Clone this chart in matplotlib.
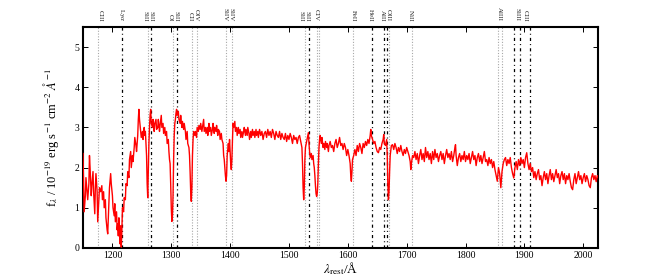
import matplotlib
matplotlib.use("Agg")
import matplotlib.pyplot as plt
import matplotlib.transforms as mtrans
import numpy as np

# ---- spectrum (rest wavelength in Angstrom, flux in 1e-19 erg/s/cm2/A) ----
spectrum_points = [
(1150,2.35),(1151,1.6),(1152,0.9),(1154,1.3),(1155,1.75),(1157,1.4),(1158,1.2),(1160,1.6),(1161,2.3),(1162,2.0),
(1164,1.3),(1165,1.55),(1167,1.9),(1168,1.4),(1170,0.85),(1171,1.5),(1172,1.85),(1174,1.4),(1175,0.65),(1177,1.2),
(1178,1.5),(1180,1.4),(1182,1.55),(1183,1.2),(1185,1.4),(1186,1.0),(1188,1.2),(1189,0.75),(1191,0.45),(1192,0.35),
(1194,1.1),(1195,1.5),(1197,1.85),(1198,1.6),(1200,1.3),(1201,1.0),(1203,0.8),(1204,1.1),(1205,0.65),(1207,0.9),
(1208,0.45),(1209,0.6),(1210,0.3),(1211,0.75),(1212,0.35),(1213,0.1),(1214,0.55),(1215,0.02),(1216,0.4),(1217,1.0),
(1219,0.9),(1220,1.25),(1222,1.2),(1223,1.6),(1225,1.55),(1226,1.9),(1228,1.75),(1229,2.2),(1231,2.4),(1232,2.0),
(1234,2.3),(1235,2.15),(1237,2.5),(1238,2.75),(1240,2.55),(1241,2.4),(1243,2.8),(1244,3.2),(1245,3.45),(1246,3.2),
(1248,2.9),(1249,2.75),(1251,2.9),(1252,2.7),(1254,3.0),(1255,2.8),(1256,2.9),(1257,2.6),(1258,2.3),(1259,1.6),
(1260,1.25),(1261,1.9),(1262,2.6),(1263,3.0),(1264,3.3),(1265,3.45),(1266,3.1),(1268,3.0),(1269,3.2),(1271,2.9),
(1272,3.1),(1274,3.2),(1275,2.95),(1277,3.0),(1278,3.2),(1280,2.9),(1281,3.05),(1283,3.3),(1284,3.0),(1286,3.1),
(1287,2.85),(1289,3.0),(1290,2.8),(1292,2.9),(1293,2.6),(1295,2.7),(1296,2.4),(1297,2.2),(1298,2.1),(1299,1.6),
(1300,1.0),(1301,0.66),(1302,0.8),(1303,1.3),(1304,2.2),(1305,2.8),(1306,3.1),(1307,3.2),(1308,3.35),(1309,3.45),
(1310,3.3),(1312,3.4),(1313,3.2),(1315,3.1),(1316,3.3),(1318,3.0),(1319,3.15),(1321,2.95),(1322,3.1),(1324,2.9),
(1325,2.7),(1327,2.9),(1328,2.6),(1330,2.5),(1331,2.3),(1332,1.9),(1333,1.4),(1334,1.16),(1335,1.5),(1336,2.3),
(1337,2.7),(1338,2.9),(1340,2.8),(1341,2.9),(1343,2.75),(1344,3.0),(1346,2.9),(1347,3.05),(1349,2.95),(1350,3.1),
(1352,2.9),(1353,3.0),(1355,3.2),(1356,2.9),(1358,3.0),(1359,2.85),(1361,3.0),(1362,2.8),(1364,3.1),(1365,2.9),
(1367,3.0),(1368,2.8),(1370,2.95),(1371,3.1),(1373,2.85),(1374,3.0),(1376,2.9),(1377,3.05),(1379,2.8),(1380,2.95),
(1382,2.9),(1383,2.7),(1385,2.85),(1386,2.7),(1388,2.6),(1389,2.3),(1390,2.2),(1391,2.0),(1392,1.8),(1393,1.66),
(1394,1.8),(1395,2.3),(1397,2.6),(1398,2.4),(1399,2.7),(1400,2.4),(1401,2.1),(1402,1.95),(1403,2.2),(1404,2.7),
(1405,3.1),(1406,3.0),(1408,3.15),(1409,2.9),(1411,3.0),(1412,2.8),(1414,3.0),(1415,2.85),(1417,2.95),(1418,2.75),
(1420,2.9),(1421,2.75),(1423,2.9),(1424,3.0),(1426,2.8),(1427,2.95),(1429,2.8),(1430,3.0),(1432,2.85),(1433,2.7),
(1435,2.9),(1436,2.75),(1438,2.95),(1439,2.8),(1441,2.9),(1442,2.75),(1444,2.95),(1445,2.8),(1447,2.9),(1448,2.75),
(1450,2.95),(1452,2.8),(1454,2.9),(1456,2.7),(1458,2.85),(1460,2.9),(1462,2.75),(1464,2.95),(1466,2.8),(1468,2.9),
(1470,2.75),(1472,2.95),(1474,2.85),(1476,2.7),(1478,2.9),(1480,2.8),(1482,2.75),(1484,2.9),(1486,2.7),(1488,2.85),
(1490,2.75),(1492,2.7),(1494,2.85),(1496,2.65),(1498,2.8),(1500,2.7),(1502,2.85),(1504,2.75),(1506,2.6),(1508,2.8),
(1510,2.7),(1512,2.75),(1514,2.6),(1516,2.75),(1518,2.8),(1520,2.65),(1522,2.5),(1523,2.1),(1524,1.5),(1525,1.2),
(1526,1.5),(1527,2.2),(1528,2.5),(1530,2.65),(1532,2.8),(1533,2.87),(1534,2.6),(1535,2.4),(1536,2.25),(1538,2.35),
(1539,2.2),(1541,2.3),(1542,2.1),(1543,2.0),(1544,1.8),(1545,1.55),(1546,1.35),(1547,1.28),(1548,1.35),(1549,1.6),
(1550,2.1),(1551,2.5),(1552,2.7),(1553,2.8),(1555,2.6),(1556,2.75),(1558,2.5),(1559,2.6),(1561,2.45),(1562,2.65),
(1564,2.5),(1565,2.6),(1567,2.4),(1568,2.55),(1570,2.65),(1572,2.5),(1574,2.55),(1576,2.4),(1578,2.6),(1580,2.7),
(1582,2.5),(1584,2.6),(1586,2.75),(1588,2.55),(1590,2.6),(1592,2.45),(1594,2.6),(1596,2.5),(1598,2.3),(1600,2.45),
(1602,2.3),(1604,2.1),(1605,1.8),(1606,1.66),(1607,1.9),(1608,2.2),(1610,2.3),(1612,2.45),(1614,2.3),(1616,2.55),
(1618,2.4),(1620,2.6),(1622,2.5),(1624,2.35),(1626,2.6),(1628,2.5),(1630,2.65),(1632,2.55),(1634,2.7),(1636,2.6),
(1638,2.8),(1639,2.95),(1640,2.8),(1642,2.7),(1644,2.6),(1646,2.65),(1648,2.5),(1650,2.4),(1652,2.37),(1654,2.5),
(1656,2.45),(1658,2.6),(1660,2.7),(1661,2.82),(1662,2.6),(1664,2.55),(1666,2.7),(1667,2.3),(1668,1.6),(1669,1.2),
(1670,1.4),(1671,1.9),(1672,2.3),(1674,2.55),(1676,2.57),(1678,2.45),(1680,2.6),(1682,2.5),(1684,2.35),(1686,2.5),
(1688,2.4),(1690,2.55),(1692,2.4),(1694,2.3),(1696,2.45),(1698,2.35),(1700,2.5),(1702,2.4),(1704,2.3),(1706,2.15),
(1707,1.95),(1708,2.1),(1710,2.3),(1712,2.25),(1714,2.4),(1716,2.2),(1718,2.35),(1720,2.1),(1722,2.3),(1724,2.45),
(1726,2.2),(1728,2.35),(1730,2.15),(1732,2.5),(1734,2.25),(1736,2.4),(1738,2.2),(1740,2.35),(1742,2.1),(1744,2.4),
(1746,2.2),(1748,2.45),(1750,2.25),(1752,2.35),(1754,2.15),(1756,2.3),(1758,2.4),(1760,2.2),(1762,2.35),(1764,2.1),
(1766,2.3),(1768,2.45),(1770,2.25),(1772,2.35),(1774,2.2),(1776,2.4),(1778,2.15),(1780,2.3),(1782,2.5),(1783,2.57),
(1784,2.3),(1786,2.05),(1788,2.25),(1790,2.35),(1792,2.15),(1794,2.3),(1796,2.2),(1798,2.4),(1800,2.15),(1802,2.3),
(1804,2.2),(1806,2.35),(1808,2.1),(1810,2.25),(1812,2.4),(1814,2.2),(1816,2.3),(1818,2.05),(1820,2.25),(1822,2.35),
(1824,2.15),(1826,2.3),(1828,2.1),(1830,2.25),(1832,2.4),(1834,2.15),(1836,2.2),(1838,2.05),(1840,2.25),(1842,2.1),
(1844,2.2),(1846,2.0),(1848,2.15),(1850,1.95),(1852,1.8),(1854,1.66),(1856,2.0),(1858,1.85),(1860,1.5),(1862,1.9),
(1864,2.1),(1866,2.2),(1868,2.25),(1870,2.05),(1872,2.2),(1874,2.1),(1876,2.25),(1878,2.0),(1880,1.85),(1882,1.74),
(1884,2.0),(1886,2.15),(1888,1.95),(1890,2.2),(1892,2.05),(1894,2.25),(1896,2.1),(1898,2.2),(1900,2.0),(1902,2.25),
(1904,2.37),(1906,2.1),(1908,1.95),(1910,2.1),(1912,1.9),(1914,2.0),(1916,1.75),(1918,1.9),(1920,1.7),(1922,1.85),
(1924,1.95),(1926,1.7),(1928,1.8),(1930,1.55),(1932,1.75),(1934,1.9),(1936,1.7),(1938,1.85),(1940,1.6),(1942,1.8),
(1944,1.95),(1946,1.7),(1948,1.85),(1950,1.65),(1952,1.8),(1954,1.95),(1956,1.75),(1958,1.85),(1960,1.6),(1962,1.8),
(1964,1.9),(1966,1.7),(1968,1.85),(1970,1.6),(1972,1.8),(1974,1.7),(1976,1.85),(1978,1.65),(1980,1.5),(1982,1.45),
(1984,1.7),(1986,1.85),(1988,1.6),(1990,1.75),(1992,1.9),(1994,1.7),(1996,1.8),(1998,1.6),(2000,1.75),(2002,1.85),
(2004,1.65),(2006,1.8),(2008,1.7),(2010,1.55),(2012,1.5),(2014,1.75),(2016,1.85),(2018,1.7),(2020,1.8),(2022,1.65),
(2024,1.8),(2026,1.75),
]
wave = np.array([p[0] for p in spectrum_points], dtype=float)
flux = np.array([p[1] for p in spectrum_points], dtype=float)

# ---- line markers ----
line_waves = [1175.7, 1215.67, 1260.42, 1264.7, 1302.17, 1309.28, 1334.53, 1343.35,
              1393.76, 1402.77, 1526.71, 1533.43, 1548.2, 1550.78, 1608.45, 1640.42,
              1660.81, 1666.15, 1670.79, 1709.6, 1854.72, 1862.79, 1882.7, 1892.03, 1908.73]
line_kinds = ['dot', 'dash', 'dot', 'dash', 'dot', 'dash', 'dot', 'dot',
              'dot', 'dot', 'dot', 'dash', 'dot', 'dot', 'dot', 'dash',
              'dash', 'dash', 'dot', 'dot', 'dot', 'dot', 'dash', 'dash', 'dash']

label_waves = [1179.0, 1215.0, 1255.0, 1265.0, 1298.5, 1307.5, 1333.0, 1342.5,
               1391.0, 1401.0, 1521.0, 1531.0, 1546.0, 1609.0, 1638.0,
               1658.0, 1668.0, 1707.0, 1858.0, 1887.0, 1901.0]
label_texts = ['CIII', r'Ly$\alpha$', 'SiII', 'SiII', 'OI', 'SiII', 'CII', 'OIV',
               'SiIV', 'SiIV', 'SiII', 'SiII', 'CIV', 'FeII', 'HeII',
               'AlII', 'OIII', 'NiII', 'AlIII', 'SiIII', 'CIII']

xlim = (1150, 2025)
ylim = (0, 5.5)
xticks = [1200, 1300, 1400, 1500, 1600, 1700, 1800, 1900, 2000]
yticks = [0, 1, 2, 3, 4, 5]

plt.rcParams['font.family'] = ['Liberation Serif', 'DejaVu Serif']
plt.rcParams['mathtext.fontset'] = 'stix'

fig = plt.figure(figsize=(6.64, 2.77), dpi=100)
ax = fig.add_axes([0.125, 0.105, 0.7755, 0.7975])

for w, k in zip(line_waves, line_kinds):
    if k == 'dot':
        ax.axvline(w, color='#a8a8a8', lw=0.8, ls=(0, (1, 1.5)), zorder=1)
    else:
        ax.axvline(w, color='black', lw=0.9, ls=(0, (2.5, 2.5, 0.8, 2.5)), zorder=1)

ax.plot(wave, flux, color='red', lw=1.0, zorder=3)

trans = mtrans.blended_transform_factory(ax.transData, ax.transAxes)
for w, t in zip(label_waves, label_texts):
    ax.text(w, 1.025, t, transform=trans, rotation=270, ha='center', va='bottom',
            fontsize=5, color='#222222')

ax.set_xlim(*xlim)
ax.set_ylim(*ylim)
ax.set_xticks(xticks)
ax.set_yticks(yticks)
ax.tick_params(direction='in', top=True, right=True, length=3.5, width=0.7,
               labelsize=7, pad=2.5)
for s in ax.spines.values():
    s.set_linewidth(1.5)

ax.set_ylabel(r'f$_\lambda$ / 10$^{-19}$ erg s$^{-1}$ cm$^{-2}$ $\AA^{-1}$', fontsize=9, labelpad=10)
ax.set_xlabel(r'$\lambda_{\rm rest}$/Å', fontsize=9.5, labelpad=0)

fig.savefig('out.png', dpi=100)
